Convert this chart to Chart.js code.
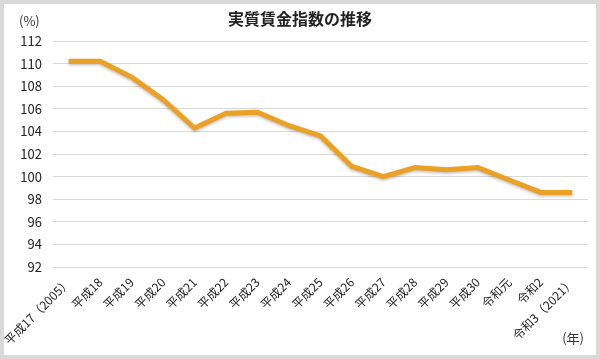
<!DOCTYPE html>
<html>
<head>
<meta charset="utf-8">
<script src="https://cdn.jsdelivr.net/npm/chart.js@4.4.1/dist/chart.umd.min.js"></script>
<style>
  html, body { margin: 0; padding: 0; background: #d9d9d9; }
  #wrap { position: absolute; left: 4px; top: 4px; width: 592px; height: 351px; background: #fff; }
  canvas { display: block; }
</style>
</head>
<body>
<div id="wrap"><canvas id="wageChart" width="592" height="351"></canvas></div>
<script>
// データ
const years = ['平成17（2005）', '平成18', '平成19', '平成20', '平成21', '平成22', '平成23', '平成24',
  '平成25', '平成26', '平成27', '平成28', '平成29', '平成30', '令和元', '令和2', '令和3（2021）'];
const realWageIndex = [110.2, 110.2, 108.8, 106.8, 104.3, 105.6, 105.7, 104.5,
  103.6, 100.9, 100.0, 100.8, 100.6, 100.8, 99.7, 98.6, 98.6];
const chartTitle = '実質賃金指数の推移';
const yUnit = '(%)';
const xUnit = '(年)';

const FONT = '"Noto Sans CJK JP", "Noto Sans", sans-serif';

// タイトルと単位を描く
const labelPlugin = {
  id: 'labelPlugin',
  afterDraw(chart) {
    const ctx = chart.ctx;
    ctx.save();
    ctx.fillStyle = '#222';
    ctx.textBaseline = 'middle';
    ctx.font = 'bold 16px ' + FONT;
    ctx.textAlign = 'center';
    ctx.fillText(chartTitle, 296, 15);
    ctx.font = '13px ' + FONT;
    ctx.fillStyle = '#333';
    ctx.textAlign = 'left';
    ctx.fillText(yUnit, 15, 17);
    ctx.textAlign = 'right';
    ctx.fillText(xUnit, 580, 334);
    ctx.restore();
  },
  beforeDatasetDraw(chart) {
    const ctx = chart.ctx;
    ctx.save();
    ctx.shadowColor = 'rgba(0,0,0,0.25)';
    ctx.shadowBlur = 3;
    ctx.shadowOffsetY = 1.5;
  },
  afterDatasetDraw(chart) {
    chart.ctx.restore();
  }
};

const ctx = document.getElementById('wageChart').getContext('2d');
new Chart(ctx, {
  type: 'line',
  data: {
    labels: years,
    datasets: [
      {
        data: realWageIndex,
        borderColor: '#eba126',
        borderWidth: 5,
        pointRadius: 0,
        tension: 0,
        fill: false,
      },
    ],
  },
  options: {
    responsive: false,
    animation: false,
    layout: {
      padding: { top: 37, right: 8, left: 0, bottom: 0 },
    },
    plugins: {
      legend: { display: false },
      title: { display: false },
      tooltip: { enabled: false },
    },
    scales: {
      x: {
        offset: true,
        grid: { display: false, drawTicks: false },
        border: { display: false },
        ticks: {
          autoSkip: false,
          minRotation: 45,
          maxRotation: 45,
          padding: 8,
          color: '#222',
          font: { family: FONT, size: 12 },
        },
        afterFit: (scale) => {
          scale.height = 88;
          scale.paddingLeft = 0;
          scale.paddingRight = 0;
        },
      },
      y: {
        min: 92,
        max: 112,
        grid: { color: '#d9d9d9', drawTicks: false },
        border: { display: false },
        ticks: {
          stepSize: 2,
          padding: 11,
          color: '#222',
          font: { family: FONT, size: 13 },
        },
        afterFit: (scale) => {
          scale.width = 49;
        },
      },
    },
  },
  plugins: [labelPlugin],
});
</script>
</body>
</html>
